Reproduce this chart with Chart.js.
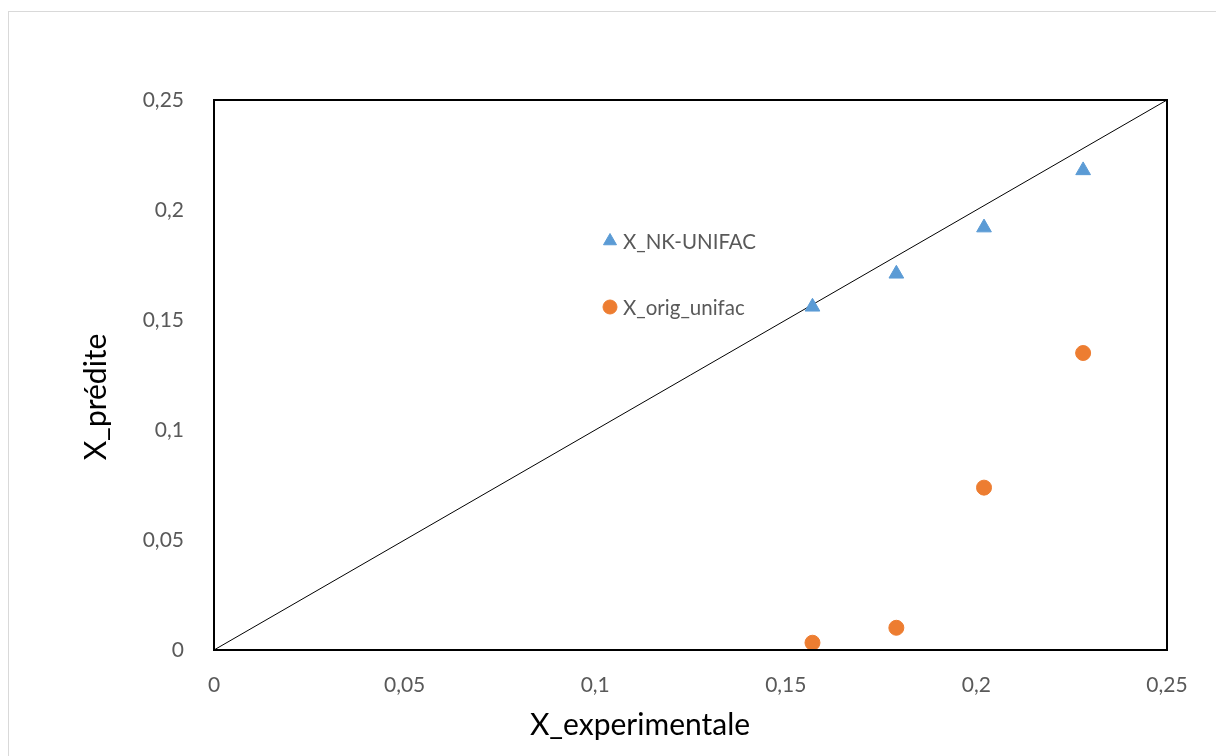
<!DOCTYPE html>
<html lang="fr">
<head>
  <meta charset="UTF-8" />
  <title>X_prédite vs X_experimentale</title>
  <script src="https://cdn.jsdelivr.net/npm/chart.js"></script>
  <style>
    html, body { margin: 0; padding: 0; background: #fff; overflow: hidden; }
    #frame { position: absolute; left: 8px; top: 11px; width: 1220px; height: 760px; border: 1px solid #d9d9d9; }
    #chart { position: absolute; left: 0; top: 0; }
  </style>
</head>
<body>
  <div id="frame"></div>
  <canvas id="chart" width="1216" height="756"></canvas>

  <script>
    // values
    const xExp = [0.157, 0.179, 0.202, 0.228];
    const yNK = [0.156, 0.171, 0.192, 0.218];
    const yOrig = [0.0033, 0.0101, 0.0738, 0.135];
    const seriesNames = ['X_NK-UNIFAC', 'X_orig_unifac'];
    const diagonal = [0, 0.25];

    const blue = '#5B9BD5';
    const orange = '#ED7D31';
    const font = "Lato, 'Open Sans', sans-serif";

    const fmt = v => parseFloat(v.toFixed(2)).toString().replace('.', ',');

    // frame around the plot, axis titles and the legend placed inside the plot
    const extras = {
      id: 'extras',
      afterDraw(chart) {
        const ctx = chart.ctx;
        const a = chart.chartArea;
        ctx.save();
        ctx.strokeStyle = '#000';
        ctx.lineWidth = 2;
        ctx.strokeRect(a.left, a.top, a.right - a.left, a.bottom - a.top);

        ctx.fillStyle = '#000';
        ctx.font = '30px ' + font;
        ctx.textAlign = 'center';
        ctx.textBaseline = 'middle';
        ctx.fillText('X_experimentale', 640, 725);
        ctx.save();
        ctx.translate(96, 397);
        ctx.rotate(-Math.PI / 2);
        ctx.fillText('X_prédite', 0, 0);
        ctx.restore();

        const items = [
          { text: seriesNames[0], style: 'triangle', color: blue, r: 7.5, y: 241 },
          { text: seriesNames[1], style: 'circle', color: orange, r: 7, y: 307 }
        ];
        ctx.font = '20.5px ' + font;
        ctx.textAlign = 'left';
        items.forEach(it => {
          ctx.fillStyle = it.color;
          ctx.strokeStyle = it.color;
          ctx.lineWidth = 1;
          Chart.helpers.drawPoint(ctx, { pointStyle: it.style, radius: it.r, rotation: 0, borderWidth: 1 }, 610, it.y);
          ctx.fillStyle = '#595959';
          ctx.fillText(it.text, 623, it.y + 1);
        });
        ctx.restore();
      }
    };

    new Chart(document.getElementById('chart'), {
      type: 'scatter',
      data: {
        datasets: [
          {
            label: seriesNames[0],
            data: xExp.map((x, i) => ({ x: x, y: yNK[i] })),
            pointStyle: 'triangle',
            pointRadius: 8.5,
            backgroundColor: blue,
            borderColor: blue,
            borderWidth: 1
          },
          {
            label: seriesNames[1],
            data: xExp.map((x, i) => ({ x: x, y: yOrig[i] })),
            pointStyle: 'circle',
            pointRadius: 7.5,
            backgroundColor: orange,
            borderColor: orange,
            borderWidth: 1
          },
          {
            label: 'y = x',
            data: diagonal.map(v => ({ x: v, y: v })),
            showLine: true,
            pointRadius: 0,
            borderColor: '#000',
            borderWidth: 1
          }
        ]
      },
      options: {
        responsive: false,
        devicePixelRatio: 1,
        animation: false,
        layout: { padding: { top: 100, right: 49, left: 0, bottom: 0 } },
        plugins: {
          legend: { display: false },
          tooltip: { enabled: false }
        },
        scales: {
          x: {
            type: 'linear',
            min: 0,
            max: 0.25,
            grid: { display: false },
            border: { display: false },
            ticks: {
              stepSize: 0.05,
              padding: 15,
              color: '#595959',
              font: { family: font, size: 21 },
              maxRotation: 0,
              callback: v => fmt(v)
            },
            afterFit: s => { s.height = 106; }
          },
          y: {
            type: 'linear',
            min: 0,
            max: 0.25,
            grid: { display: false },
            border: { display: false },
            ticks: {
              stepSize: 0.05,
              padding: 22,
              color: '#595959',
              font: { family: font, size: 21 },
              callback: v => fmt(v)
            },
            afterFit: s => { s.width = 214; }
          }
        }
      },
      plugins: [extras]
    });
  </script>
</body>
</html>
